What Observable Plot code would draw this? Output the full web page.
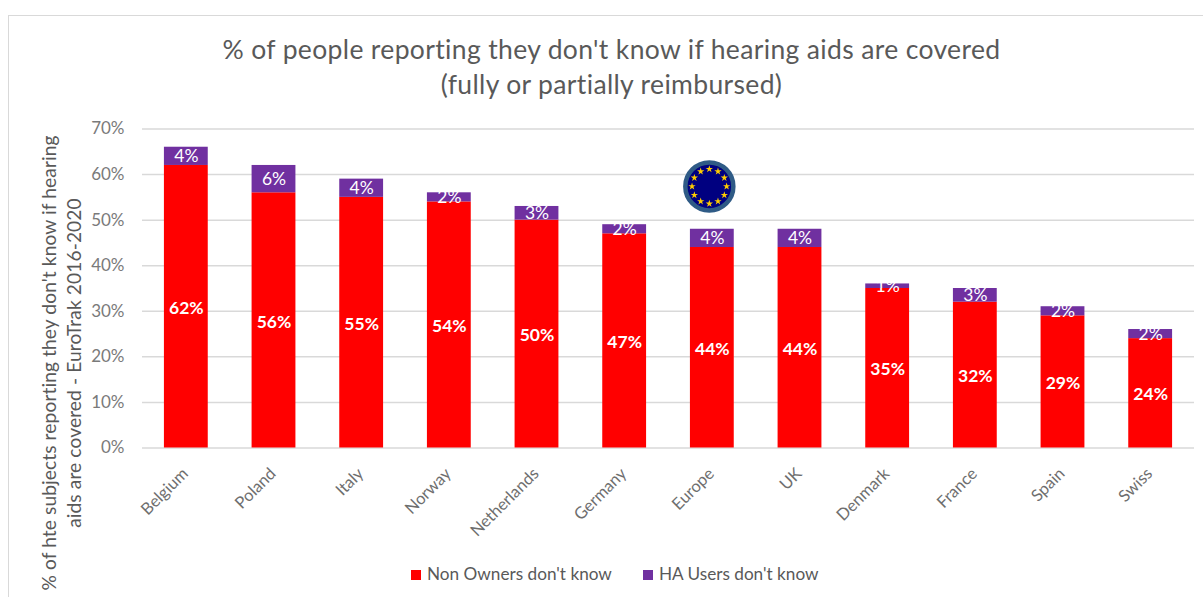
<!DOCTYPE html>
<html><head><meta charset="utf-8">
<script src="https://cdn.jsdelivr.net/npm/d3@7"></script>
<script src="https://cdn.jsdelivr.net/npm/@observablehq/plot@0.6"></script>
<style>
html,body{margin:0;padding:0;background:#fff;overflow:hidden}
#wrap{position:relative;width:1203px;height:597px;overflow:hidden;font-family:Lato,sans-serif;color:#595959}
#frame{position:absolute;left:8px;top:15px;width:1300px;height:700px;border:1.5px solid #d9d9d9;box-sizing:border-box}
#title{position:absolute;left:0;width:1223px;top:32px;text-align:center;font-size:26.5px;line-height:35px;color:#595959;letter-spacing:.35px}
#ylab{position:absolute;left:61px;top:363px;width:0;height:0}
#ylab div{position:absolute;transform:translate(-50%,-50%) rotate(-90deg);white-space:nowrap;text-align:center;font-size:19.2px;line-height:25px;color:#595959;letter-spacing:.1px}
#legend{position:absolute;top:564px;left:411px;font-size:17.2px;color:#595959;white-space:nowrap;line-height:20px}
#legend i{display:inline-block;width:10px;height:10px;margin-right:6px}
#legend span{margin-right:31px}
svg{position:absolute;left:0;top:0;background:transparent!important}
</style></head><body>
<div id="wrap"><div id="frame"></div>
<div id="title">% of people reporting they don't know if hearing aids are covered<br>(fully or partially reimbursed)</div>
<div id="ylab"><div>% of hte subjects reporting they don't know if hearing<br>aids are covered - EuroTrak 2016-2020</div></div>
<div id="legend"><span><i style="background:#ff0000"></i>Non Owners don't know</span><span><i style="background:#7030a0"></i>HA Users don't know</span></div>
</div>
<script>
const countries=["Belgium","Poland","Italy","Norway","Netherlands","Germany","Europe","UK","Denmark","France","Spain","Swiss"];
const nonOwners=[62,56,55,54,50,47,44,44,35,32,29,24];
const haUsers=[4,6,4,2,3,2,4,4,1,3,2,2];
const yTicks=[0,10,20,30,40,50,60,70];
const seriesNames=["Non Owners don't know","HA Users don't know"];
const flagAt=[{country:"Europe",value:57.4}];
const starHours=[0,1,2,3,4,5,6,7,8,9,10,11];

const rows=[
  ...countries.map((c,i)=>({country:c,series:seriesNames[0],value:nonOwners[i]})),
  ...countries.map((c,i)=>({country:c,series:seriesNames[1],value:haUsers[i]}))
];
const font="Lato, sans-serif";
const labels=(name,extra)=>Plot.text(rows,Plot.filter(d=>d.series===name,Plot.stackY({x:"country",y:"value",z:"series",order:seriesNames,text:d=>d.value+"%",fill:"white",fontSize:17.5,...extra})));
const starMarks=starHours.map(h=>Plot.dot(flagAt,{x:"country",y:"value",symbol:"star",r:2.3,fill:"#ffcc00",
  dx:-3+17.3*Math.sin(h*Math.PI/6),dy:-17.3*Math.cos(h*Math.PI/6)}));
const plot=Plot.plot({
  width:1203,height:597,
  marginLeft:142,marginRight:9,marginTop:128.5,marginBottom:149.5,
  style:{fontFamily:font,background:"transparent",overflow:"visible"},
  x:{domain:countries,paddingInner:0.5,paddingOuter:0.25,align:0.5,round:false,label:null},
  y:{domain:[0,70],label:null,ticks:yTicks},
  color:{domain:seriesNames,range:["#ff0000","#7030a0"]},
  marks:[
    Plot.gridY(yTicks,{stroke:"#d9d9d9",strokeOpacity:1,strokeWidth:1.5}),
    Plot.axisY({ticks:yTicks,tickFormat:d=>d+"%",tickSize:0,tickPadding:18,fontSize:17,fill:"#7a7a7a",label:null}),
    Plot.axisX({tickSize:0,tickRotate:-45,tickPadding:23,dx:-1,fontSize:16.5,fill:"#6e6e6e",label:null}),
    Plot.barY(rows,Plot.stackY({x:"country",y:"value",fill:"series",order:seriesNames})),
    labels(seriesNames[0],{fontWeight:"bold",dy:1.5}),
    labels(seriesNames[1],{dy:0.5}),
    Plot.dot(flagAt,{x:"country",y:"value",r:24,fill:"#000080",stroke:"#2f5b86",strokeWidth:4.5,dx:-3}),
    ...starMarks
  ]
});
document.getElementById("wrap").appendChild(plot);
</script>
</body></html>
